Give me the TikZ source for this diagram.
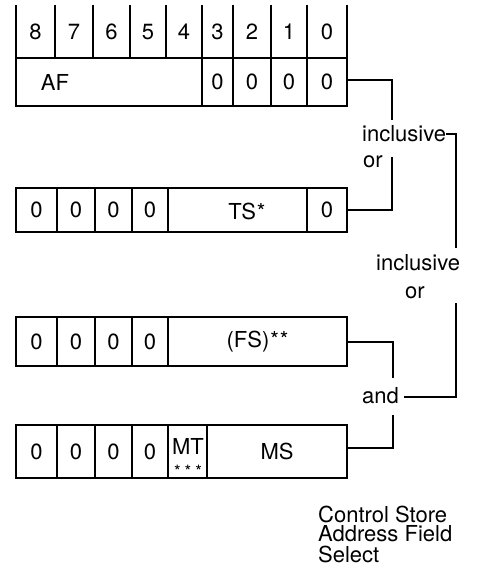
\documentclass[tikz,border=0pt]{standalone}
\usepackage{fontspec}
\setmainfont{TeX Gyre Heros}
\newcommand\dfont{\fontsize{22bp}{26bp}\selectfont}
\newcommand\sfontx{\fontsize{17bp}{17bp}\selectfont}
\newcommand\cellat[6]{\node[cell, minimum width=#4bp, minimum height=#5bp] (#1) at (#2,#3) {#6};}
\begin{document}
\begin{tikzpicture}[x=1bp,y=-1bp,
  cell/.style={draw, line width=2.6bp, rectangle, anchor=north west, inner sep=0pt, outer sep=0pt, font=\dfont},
  lbl/.style={inner sep=0pt, font=\dfont},
  wire/.style={line width=2.6bp}]
\useasboundingbox (0,0) rectangle (487,573);

% header
\foreach \x in {16,55,93,130,166,202,233,271,307,347}
  \draw[wire] (\x,5) -- (\x,58);
\foreach \a/\b/\t/\n in {16/55/8/h8,55/93/7/h7,93/130/6/h6,130/166/5/h5,166/202/4/h4,202/233/3/h3,233/271/2/h2,271/307/1/h1,307/347/0/h0}
  \node[lbl] (\n) at ({(\a+\b)/2},32) {\t};

% AF row
\cellat{af}{16}{58}{186}{48}{}
\cellat{a3}{202}{58}{31}{48}{0}
\cellat{a2}{233}{58}{38}{48}{0}
\cellat{a1}{271}{58}{36}{48}{0}
\cellat{a0}{307}{58}{40}{48}{0}
\node[lbl] (aft) at (55,82) {AF};

% TS row
\cellat{t8}{16}{188}{41}{44}{0}
\cellat{t7}{57}{188}{38}{44}{0}
\cellat{t6}{95}{188}{37}{44}{0}
\cellat{t5}{132}{188}{36}{44}{0}
\cellat{ts}{168}{188}{139}{44}{}
\cellat{t0}{307}{188}{40}{44}{0}
\node[lbl] (tst) at (247,211) {TS\hspace{1bp}*};

% FS row
\cellat{f8}{16}{317}{41}{49}{0}
\cellat{f7}{57}{317}{38}{49}{0}
\cellat{f6}{95}{317}{37}{49}{0}
\cellat{f5}{132}{317}{36}{49}{0}
\cellat{fs}{168}{317}{179}{49}{(FS)\hspace{1bp}*\hspace{1bp}*}

% MS row
\cellat{m8}{16}{425}{41}{53}{0}
\cellat{m7}{57}{425}{38}{53}{0}
\cellat{m6}{95}{425}{37}{53}{0}
\cellat{m5}{132}{425}{36}{53}{0}
\cellat{mt}{168}{425}{39}{53}{}
\cellat{ms}{207}{425}{140}{53}{MS}
\node[lbl] (mtt) at (188,446) {MT};
\node[inner sep=0pt, font=\sfontx] (mts) at (188,471) {*\hspace{4bp}*\hspace{4bp}*};

% operator labels
\node[lbl, anchor=base west] (inc1) at (362,142) {inclusive};
\node[lbl, anchor=base west] (or1) at (363,168) {or};
\node[lbl, anchor=base west] (inc2) at (376,270) {inclusive};
\node[lbl, anchor=base west] (or2) at (405,298) {or};
\node[lbl, anchor=base west] (and) at (362,403) {and};

% connector coordinates
\coordinate (c1) at (392,80);
\coordinate (c1e) at (392,120);
\coordinate (c2) at (392,210);
\coordinate (c2e) at (392,157);
\coordinate (k1) at (446,134);
\coordinate (k2) at (456,134);
\coordinate (k3) at (456,248);
\coordinate (k4) at (456,303);
\coordinate (k5) at (456,397);
\coordinate (k6) at (404,397);
\coordinate (c3) at (393,342);
\coordinate (c3e) at (393,378);
\coordinate (c4) at (393,448);
\coordinate (c4e) at (393,415);

\draw[wire] (a0.east |- c1) -- (c1) -- (c1e);
\draw[wire] (t0.east |- c2) -- (c2) -- (c2e);
\draw[wire] (k1) -- (k2) -- (k3);
\draw[wire] (k4) -- (k5) -- (k6);
\draw[wire] (fs.east |- c3) -- (c3) -- (c3e);
\draw[wire] (c4e) -- (c4) -- (ms.east |- c4);

% caption
\node[lbl, anchor=west] (cap1) at (318,514) {Control Store};
\node[lbl, anchor=west] (cap2) at (318,534) {Address Field};
\node[lbl, anchor=west] (cap3) at (318,554) {Select};
\end{tikzpicture}
\end{document}
